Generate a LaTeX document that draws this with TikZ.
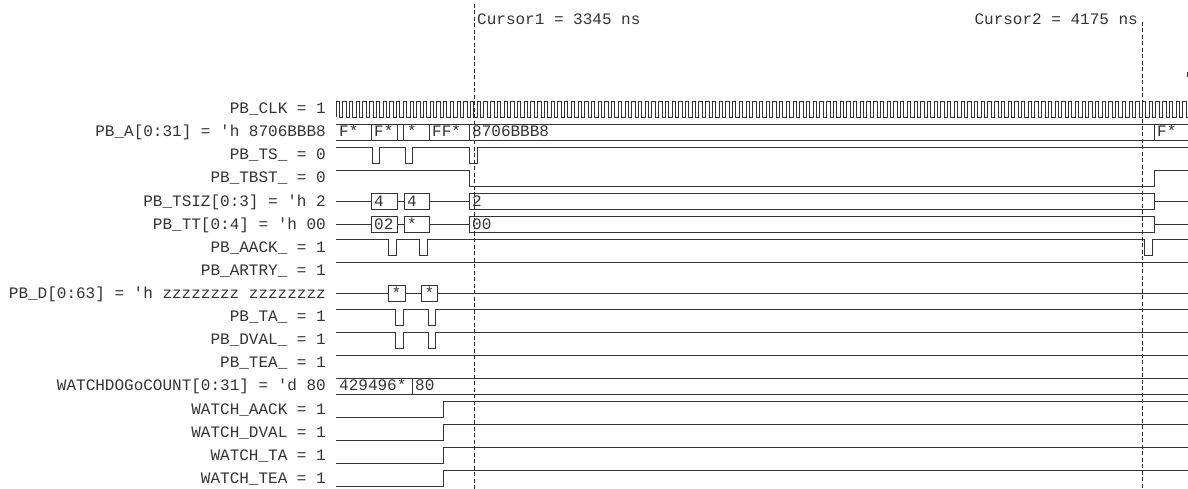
\documentclass[tikz,border=0pt]{standalone}
\usepackage{fontspec}
\newfontfamily\wfont{Liberation Mono}
\begin{document}
\begin{tikzpicture}[x=1pt,y=-1pt,
  sig/.style={line width=0.8pt, draw=black!80},
  cur/.style={line width=0.7pt, draw=black!85, dash pattern=on 4pt off 2.5pt},
  lbl/.style={font=\wfont\fontsize{16}{18}\selectfont, text=black!80, inner sep=0pt, anchor=base east},
  val/.style={font=\wfont\fontsize{16}{18}\selectfont, text=black!80, inner sep=0pt, anchor=base west}]
\useasboundingbox (0,0) rectangle (1188,489);
\clip (0,0) rectangle (1188,489);

% labels (baseline = high + 12.7)
\node[lbl] (l0)  at (326,113.7) {PB\_CLK = 1};
\node[lbl] (l1)  at (326,136.8) {PB\_A[0:31] = 'h 8706BBB8};
\node[lbl] (l2)  at (326,159.9) {PB\_TS\_ = 0};
\node[lbl] (l3)  at (326,183.0) {PB\_TBST\_ = 0};
\node[lbl] (l4)  at (326,206.1) {PB\_TSIZ[0:3] = 'h 2};
\node[lbl] (l5)  at (326,229.2) {PB\_TT[0:4] = 'h 00};
\node[lbl] (l6)  at (326,252.3) {PB\_AACK\_ = 1};
\node[lbl] (l7)  at (326,275.4) {PB\_ARTRY\_ = 1};
\node[lbl] (l8)  at (326,298.5) {PB\_D[0:63] = 'h zzzzzzzz zzzzzzzz};
\node[lbl] (l9)  at (326,321.6) {PB\_TA\_ = 1};
\node[lbl] (l10) at (326,344.7) {PB\_DVAL\_ = 1};
\node[lbl] (l11) at (326,367.8) {PB\_TEA\_ = 1};
\node[lbl] (l12) at (326,390.9) {WATCHDOGoCOUNT[0:31] = 'd 80};
\node[lbl] (l13) at (326,414.0) {WATCH\_AACK = 1};
\node[lbl] (l14) at (326,437.1) {WATCH\_DVAL = 1};
\node[lbl] (l15) at (326,460.2) {WATCH\_TA = 1};
\node[lbl] (l16) at (326,483.3) {WATCH\_TEA = 1};

% cursors
\draw[cur] (474,4) -- (474,489);
\draw[cur] (1142.5,22) -- (1142.5,489);
\node[val] (c1) at (477,25) {Cursor1 = 3345 ns};
\node[lbl] (c2) at (1138,25) {Cursor2 = 4175 ns};
\draw[sig] (1187,72) -- (1187,77);

% row 0 clock
\draw[sig] (336,117.5) -- (336,101.5) \foreach \k in {0,...,127}{ -- ++(3.36,0) -- ++(0,16) -- ++(3.36,0) -- ++(0,-16)};

% row 1 PB_A bus
\draw[sig] (336,124.1) -- (1188,124.1) (336,140.1) -- (1188,140.1);
\foreach \xx in {371,397,403,429,469,1154} \draw[sig] (\xx,124.1) -- (\xx,140.1);
\node[val] (a1) at (339,136.8) {F*};
\node[val] (a2) at (374,136.8) {F*};
\node[val] (a3) at (407,136.8) {*};
\node[val] (a4) at (432,136.8) {FF*};
\node[val] (a5) at (472,136.8) {8706BBB8};
\node[val] (a6) at (1157,136.8) {F*};

% row 2 PB_TS_
\draw[sig] (336,147.2) -- (372,147.2) -- (372,163.2) -- (379,163.2) -- (379,147.2)
  -- (405,147.2) -- (405,163.2) -- (412,163.2) -- (412,147.2)
  -- (469,147.2) -- (469,163.2) -- (477,163.2) -- (477,147.2) -- (1188,147.2);

% row 3 PB_TBST_
\draw[sig] (336,170.3) -- (469,170.3) -- (469,186.3) -- (1154,186.3) -- (1154,170.3) -- (1188,170.3);

% row 4 PB_TSIZ
\draw[sig] (336,201.4) -- (371,201.4) (397,201.4) -- (404,201.4) (429,201.4) -- (469,201.4) (1154,201.4) -- (1188,201.4);
\draw[sig] (371,193.4) rectangle (397,209.4);
\draw[sig] (404,193.4) rectangle (429,209.4);
\draw[sig] (469,193.4) rectangle (1154,209.4);
\node[val] (s1) at (374,206.1) {4};
\node[val] (s2) at (407,206.1) {4};
\node[val] (s3) at (472,206.1) {2};

% row 5 PB_TT
\draw[sig] (336,224.5) -- (371,224.5) (397,224.5) -- (404,224.5) (429,224.5) -- (469,224.5) (1154,224.5) -- (1188,224.5);
\draw[sig] (371,216.5) rectangle (397,232.5);
\draw[sig] (404,216.5) rectangle (429,232.5);
\draw[sig] (469,216.5) rectangle (1154,232.5);
\node[val] (t1) at (374,229.2) {02};
\node[val] (t2) at (407,229.2) {*};
\node[val] (t3) at (472,229.2) {00};

% row 6 PB_AACK_
\draw[sig] (336,239.6) -- (388,239.6) -- (388,255.6) -- (396,255.6) -- (396,239.6)
  -- (419,239.6) -- (419,255.6) -- (427,255.6) -- (427,239.6)
  -- (1144,239.6) -- (1144,255.6) -- (1152,255.6) -- (1152,239.6) -- (1188,239.6);

% row 7 PB_ARTRY_
\draw[sig] (336,262.7) -- (1188,262.7);

% row 8 PB_D
\draw[sig] (336,293.8) -- (388,293.8) (405,293.8) -- (421,293.8) (437,293.8) -- (1188,293.8);
\draw[sig] (388,285.8) rectangle (405,301.8);
\draw[sig] (421,285.8) rectangle (437,301.8);
\node[val] (d1) at (391.5,298.5) {*};
\node[val] (d2) at (424.5,298.5) {*};

% row 9 PB_TA_
\draw[sig] (336,308.9) -- (395,308.9) -- (395,324.9) -- (403,324.9) -- (403,308.9)
  -- (428,308.9) -- (428,324.9) -- (435,324.9) -- (435,308.9) -- (1188,308.9);

% row 10 PB_DVAL_
\draw[sig] (336,332.0) -- (395,332.0) -- (395,348.0) -- (403,348.0) -- (403,332.0)
  -- (428,332.0) -- (428,348.0) -- (435,348.0) -- (435,332.0) -- (1188,332.0);

% row 11 PB_TEA_
\draw[sig] (336,355.1) -- (1188,355.1);

% row 12 WATCHDOGoCOUNT
\draw[sig] (336,378.2) -- (1188,378.2) (336,394.2) -- (1188,394.2) (412,378.2) -- (412,394.2);
\node[val] (w1) at (339,390.9) {429496*};
\node[val] (w2) at (415,390.9) {80};

% rows 13-16 WATCH_*
\foreach \hy in {401.3,424.4,447.5,470.6}
  \draw[sig] (336,\hy+16) -- (443,\hy+16) -- (443,\hy) -- (1188,\hy);
\end{tikzpicture}
\end{document}
